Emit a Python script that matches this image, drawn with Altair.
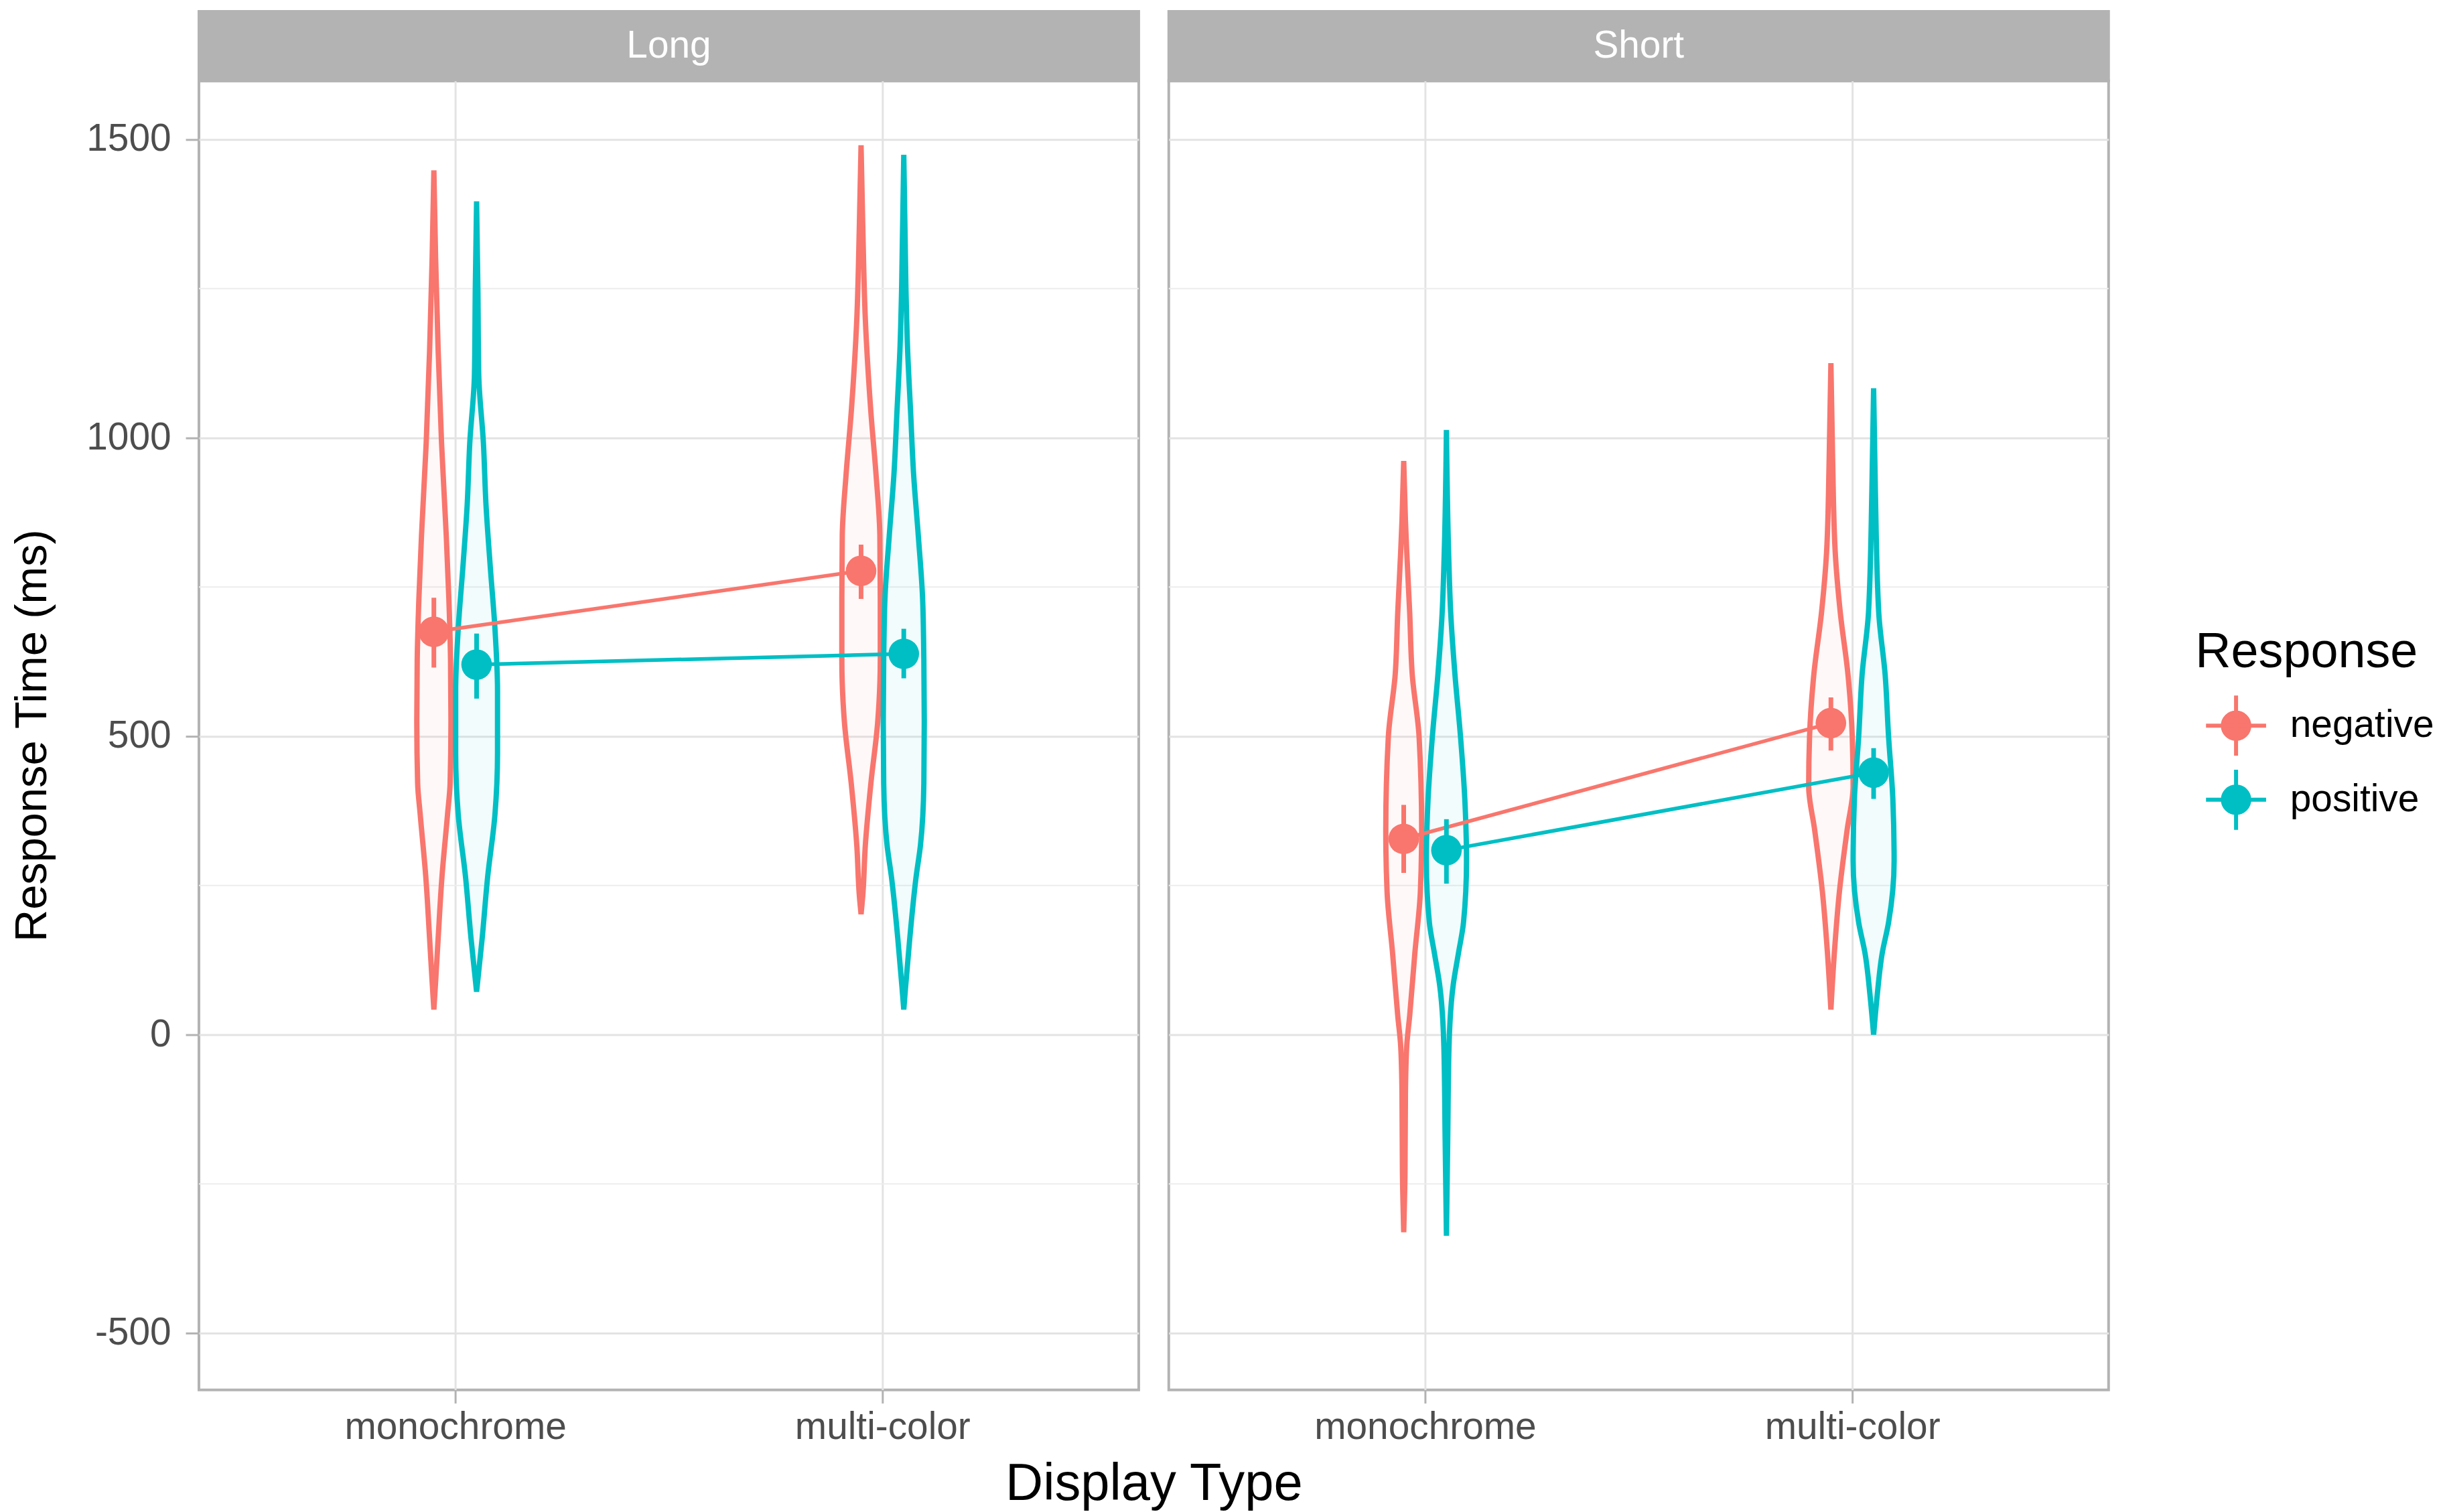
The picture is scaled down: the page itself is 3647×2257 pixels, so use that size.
import altair as alt
import pandas as pd

FONT = "Liberation Sans"
panels = ["Long", "Short"]
displays = ["monochrome", "multi-color"]
responses = ["negative", "positive"]
response_colors = ["#F8766D", "#00BFC4"]
legend_title = ["Response"]
major_breaks = [-500, 0, 500, 1000, 1500]
minor_breaks = [-250, 250, 750, 1250]

# violin outlines: response time (ms) and half width (x units)
long_mono_neg_ms = [1448, 1303, 1147, 991, 836, 732, 628, 524, 421, 369, 265, 161, 88, 42]
long_mono_neg_hw = [0, .004, .010, .018, .029, .035, .039, .040, .038, .032, .019, .010, .004, 0]
long_mono_pos_ms = [1396, 1251, 1106, 991, 888, 784, 680, 576, 472, 369, 265, 161, 72]
long_mono_pos_hw = [0, .003, .005, .016, .022, .032, .043, .049, .049, .043, .026, .013, 0]
long_multi_neg_ms = [1490, 1355, 1199, 1043, 939, 836, 732, 628, 524, 421, 317, 233, 202]
long_multi_neg_hw = [0, .004, .010, .023, .035, .044, .045, .045, .039, .023, .010, .004, 0]
long_multi_pos_ms = [1474, 1251, 1147, 1043, 939, 836, 732, 628, 524, 421, 317, 265, 161, 78, 42]
long_multi_pos_hw = [0, .005, .009, .016, .023, .034, .044, .047, .048, .047, .039, .029, .014, .004, 0]
short_mono_neg_ms = [961, 862, 810, 707, 603, 499, 343, 240, 136, 32, -20, -100, -228, -331]
short_mono_neg_hw = [0, .004, .007, .014, .020, .036, .042, .039, .026, .014, .007, .004, .003, 0]
short_mono_pos_ms = [1013, 810, 707, 603, 499, 395, 291, 188, 136, 84, -20, -176, -337]
short_mono_pos_hw = [0, .005, .010, .020, .033, .043, .047, .040, .028, .016, .006, .003, 0]
short_multi_neg_ms = [1125, 966, 810, 707, 603, 499, 416, 343, 240, 136, 42]
short_multi_neg_hw = [0, .004, .010, .022, .040, .050, .052, .038, .020, .008, 0]
short_multi_pos_ms = [1083, 914, 707, 603, 499, 395, 291, 188, 136, 63, 0]
short_multi_pos_hw = [0, .004, .012, .027, .035, .045, .048, .035, .020, .008, 0]

violins = [
    ("Long", "monochrome", "negative", long_mono_neg_ms, long_mono_neg_hw),
    ("Long", "monochrome", "positive", long_mono_pos_ms, long_mono_pos_hw),
    ("Long", "multi-color", "negative", long_multi_neg_ms, long_multi_neg_hw),
    ("Long", "multi-color", "positive", long_multi_pos_ms, long_multi_pos_hw),
    ("Short", "monochrome", "negative", short_mono_neg_ms, short_mono_neg_hw),
    ("Short", "monochrome", "positive", short_mono_pos_ms, short_mono_pos_hw),
    ("Short", "multi-color", "negative", short_multi_neg_ms, short_multi_neg_hw),
    ("Short", "multi-color", "positive", short_multi_pos_ms, short_multi_pos_hw),
]

# means with error bars
mean_panel = ["Long", "Long", "Long", "Long", "Short", "Short", "Short", "Short"]
mean_display = ["monochrome", "monochrome", "multi-color", "multi-color"] * 2
mean_response = ["negative", "positive"] * 4
mean_ms = [675, 620, 777, 638, 328, 309, 522, 439]
ci_low = [615, 563, 730, 597, 271, 253, 476, 395]
ci_high = [732, 672, 821, 680, 385, 361, 565, 480]

rows = []
for i, (p, d, r, ms, hw) in enumerate(violins):
    for v, w in zip(ms, hw):
        rows.append({"panel": p, "display": d, "response": r, "vid": i, "ms": v, "hw": w})
vio_df = pd.DataFrame(rows)
mean_df = pd.DataFrame({"panel": mean_panel, "display": mean_display, "response": mean_response,
                        "mean": mean_ms, "lo": ci_low, "hi": ci_high})
minor_df = pd.DataFrame({"minor": minor_breaks})

disp_js = "[" + ",".join("'%s'" % d for d in displays) + "]"
DODGE = 0.05
xc_expr = "indexof(%s, datum.display) + 1 + (datum.response == '%s' ? -%s : %s)" % (disp_js, responses[0], DODGE, DODGE)
label_expr = disp_js + "[datum.value - 1]"

W = 1408
H = 1961
STRIP_H = 104
GAP = 45
LEG_W = 440
GRID = "#E3E3E3"
BORDER = "#B3B3B3"
LABEL = 57
NO_VIEW = alt.ViewBackground(stroke="transparent", strokeWidth=0)

xscale = alt.Scale(domain=[0.4, 2.6], nice=False, zero=False)
yscale = alt.Scale(domain=[-595, 1598], nice=False, zero=False)
cscale = alt.Scale(domain=responses, range=response_colors)

legend_path = ("M-1,0L1,0M0,-1L0,1M-0.44,0A0.44,0.44 0 1 0 0.44,0"
               "A0.44,0.44 0 1 0 -0.44,0Z")


def axes(first):
    xa = dict(values=[1, 2], labelExpr=label_expr, grid=True, gridColor=GRID, gridWidth=3,
              ticks=True, tickColor=BORDER, tickWidth=3, tickSize=20, labelPadding=8,
              labelFontSize=LABEL, labelFont=FONT, labelColor="#4D4D4D", domain=False,
              labelLimit=1000)
    ya = dict(values=major_breaks, grid=True, gridColor=GRID, gridWidth=3, domain=False,
              labelExpr="'' + datum.value")
    if first:
        xa.update(title="Display Type", titleFontSize=78, titleFont=FONT, titleFontWeight="normal",
                  titleColor="black", titlePadding=18, titleX=(2 * W + GAP) / 2)
        ya.update(title="Response Time (ms)", titleFontSize=67, titleFont=FONT,
                  titleFontWeight="normal", titleColor="black", titlePadding=46,
                  ticks=True, tickColor=BORDER, tickWidth=3, tickSize=20, labelPadding=22,
                  labelFontSize=LABEL, labelFont=FONT, labelColor="#4D4D4D")
    else:
        xa.update(title=None)
        ya.update(title=None, labels=False, ticks=False, minExtent=0)
    return alt.Axis(**xa), alt.Axis(**ya)


def panel_chart(p, first):
    xa, ya = axes(first)
    vio = (alt.Chart(vio_df)
           .transform_filter(alt.datum.panel == p)
           .transform_calculate(xc=xc_expr)
           .transform_calculate(left="datum.xc - datum.hw")
           .transform_calculate(right="datum.xc + datum.hw"))
    enc_v = dict(y=alt.Y("ms:Q", scale=yscale, axis=ya),
                 x=alt.X("left:Q", scale=xscale, axis=xa),
                 x2="right:Q",
                 color=alt.Color("response:N", scale=cscale, legend=None),
                 detail="vid:N")
    vio_fill = vio.mark_area(orient="horizontal", interpolate="monotone", fillOpacity=0.05).encode(**enc_v)
    vio_line = vio.mark_area(orient="horizontal", interpolate="monotone", filled=False,
                             strokeWidth=8).encode(**enc_v)

    mb = (alt.Chart(mean_df)
          .transform_filter(alt.datum.panel == p)
          .transform_calculate(xc=xc_expr))
    xenc = alt.X("xc:Q", scale=xscale, axis=xa)
    lines = mb.mark_line(strokeWidth=5.5).encode(
        x=xenc, y=alt.Y("mean:Q", scale=yscale, axis=ya),
        color=alt.Color("response:N", scale=cscale, legend=None), detail="response:N")
    bars = mb.mark_rule(strokeWidth=7).encode(
        x=xenc, y=alt.Y("lo:Q", scale=yscale, axis=ya), y2="hi:Q",
        color=alt.Color("response:N", scale=cscale, legend=None))
    pts = mb.mark_point(filled=True, shape="circle", size=2100, opacity=1).encode(
        x=xenc, y=alt.Y("mean:Q", scale=yscale, axis=ya),
        color=alt.Color("response:N", scale=cscale, legend=None))

    minor = alt.Chart(minor_df).mark_rule(color="#EDEDED", strokeWidth=2).encode(
        y=alt.Y("minor:Q", scale=yscale, axis=ya))

    return alt.layer(minor, vio_fill, vio_line, lines, bars, pts).properties(width=W, height=H)


def strip_chart(p):
    sdf = pd.DataFrame({"panel": [p]})
    sx = alt.X("panel:N", axis=None, scale=alt.Scale(paddingInner=0, paddingOuter=0))
    return alt.layer(
        alt.Chart(sdf).mark_rect(color=BORDER).encode(x=sx),
        alt.Chart(sdf).mark_text(color="white", fontSize=LABEL, font=FONT).encode(x=sx, text="panel:N"),
    ).properties(width=W, height=STRIP_H)


def blank_chart():
    return alt.Chart(pd.DataFrame({"r": responses})).mark_point(opacity=0).encode(
        x=alt.value(0), y=alt.value(0)).properties(width=LEG_W, height=STRIP_H, view=NO_VIEW)


def legend_chart():
    ldf = pd.DataFrame({"response": responses})
    ly = alt.Y("response:N", axis=None,
               scale=alt.Scale(domain=responses, range=[966, 1077], padding=0))
    sym = alt.Chart(ldf).mark_point(shape=legend_path, size=8100, filled=True, strokeWidth=6,
                                    opacity=1).encode(
        x=alt.value(146), y=ly,
        fill=alt.Fill("response:N", scale=cscale, legend=None),
        stroke=alt.Stroke("response:N", scale=cscale, legend=None))
    lab = alt.Chart(ldf).mark_text(align="left", baseline="middle", fontSize=LABEL, font=FONT,
                                   color="black").encode(x=alt.value(227), y=ly, text="response:N")
    ttl = alt.Chart(pd.DataFrame({"t": legend_title})).mark_text(
        align="left", baseline="middle", fontSize=74, font=FONT, color="black").encode(
        x=alt.value(85), y=alt.value(856), text="t:N")
    return alt.layer(sym, lab, ttl).properties(width=LEG_W, height=H, view=NO_VIEW)


chart = (alt.concat(strip_chart(panels[0]), strip_chart(panels[1]), blank_chart(),
                    panel_chart(panels[0], True), panel_chart(panels[1], False), legend_chart(),
                    columns=3, spacing={"row": 0, "column": GAP}, bounds="flush")
         .resolve_scale(x="independent", y="independent",
                        fill="shared", stroke="shared", color="shared")
         .properties(padding={"left": 5, "top": 2, "right": 5, "bottom": 5})
         .configure(font=FONT)
         .configure_view(stroke=BORDER, strokeWidth=4))

chart.save("out.html", embed_options={"renderer": "svg", "actions": False})
